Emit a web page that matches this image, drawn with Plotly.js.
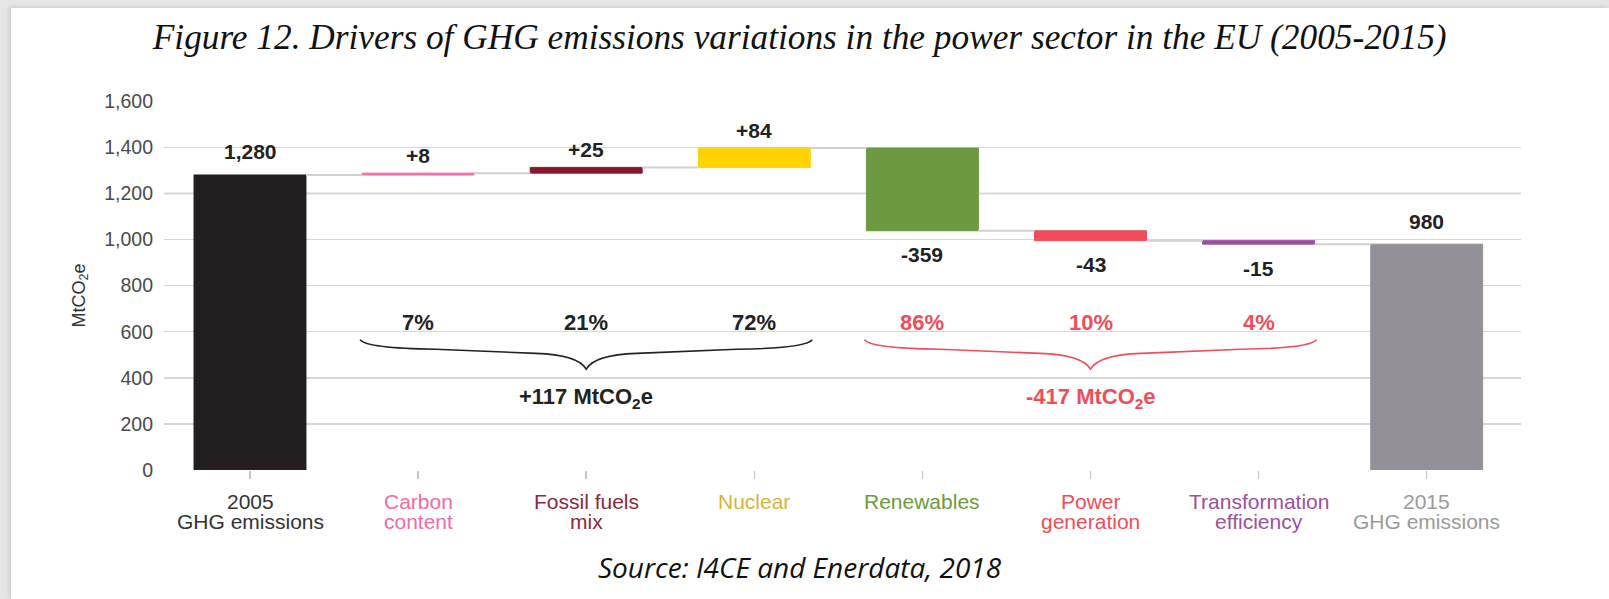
<!DOCTYPE html>
<html>
<head>
<meta charset="utf-8">
<script src="https://cdn.plot.ly/plotly-3.0.1.min.js"></script>
<style>
  html, body { margin: 0; padding: 0; width: 1609px; height: 599px; overflow: hidden; background: #e6e6e6; }
  #paper { position: absolute; left: 11px; top: 8px; right: 0; bottom: 0; background: #ffffff; box-shadow: -2px -1px 4px rgba(0,0,0,0.12); }
  #chart { position: absolute; left: 0; top: 0; width: 1609px; height: 599px; }
</style>
</head>
<body>
<div id="paper"></div>
<div id="chart"></div>
<script>
// ---- data ----
const categories = ['2005<br>GHG emissions', 'Carbon<br>content', 'Fossil fuels<br>mix', 'Nuclear',
                    'Renewables', 'Power<br>generation', 'Transformation<br>efficiency', '2015<br>GHG emissions'];
const values = [1280, 8, 25, 84, -359, -43, -15, 980];
const kinds = ['total', 'delta', 'delta', 'delta', 'delta', 'delta', 'delta', 'total'];
const valueLabels = ['1,280', '+8', '+25', '+84', '-359', '-43', '-15', '980'];
const barColors = ['#231f20', '#f06aa4', '#8a1730', '#ffd200', '#6d9a40', '#ef4d5a', '#9c4f9f', '#939197'];
const tickColors = ['#333333', '#f06aa4', '#8a2a3c', '#d6b43a', '#6d9a40', '#ef4d5a', '#9c4f9f', '#9a9a9a'];
const increaseIdx = [1, 2, 3];
const increaseShares = ['7%', '21%', '72%'];
const increaseTotal = '+117 MtCO<sub>2</sub>e';
const decreaseIdx = [4, 5, 6];
const decreaseShares = ['86%', '10%', '4%'];
const decreaseTotal = '-417 MtCO<sub>2</sub>e';
const yTicks = [0, 200, 400, 600, 800, 1000, 1200, 1400, 1600];

// ---- derived ----
const xs = categories.map((_, i) => i);
const bases = [], heights = [], ends = [];
let running = 0;
values.forEach((v, i) => {
  if (kinds[i] === 'total') { bases.push(0); heights.push(v); running = v; }
  else { bases.push(running); heights.push(v); running += v; }
  ends.push(running);
});

const BW = 0.666;
const FONT = '"Liberation Sans", Arial, sans-serif';
const DARK = '#222222';
const RED = '#ef4d5a';
const PLOT_H = 369;      // plot area height in px (for paper-coordinate placement)
const BASE_PX = 470;     // page y of the plot bottom

const bars = {
  type: 'bar', x: xs, y: heights, base: bases, width: BW,
  marker: { color: barColors, line: { width: 1, color: barColors } },
  hoverinfo: 'skip', showlegend: false
};

// connector lines
const cx = [], cy = [];
for (let i = 0; i < xs.length - 1; i++) {
  cx.push(xs[i] + BW / 2, xs[i + 1] - BW / 2, null);
  cy.push(ends[i], ends[i], null);
}
const connectors = {
  type: 'scatter', mode: 'lines', x: cx, y: cy,
  line: { color: '#d0d0d2', width: 2 }, hoverinfo: 'skip', showlegend: false
};

const annotations = [];
const pageY = py => (BASE_PX - py) / PLOT_H;

// value labels
values.forEach((v, i) => {
  const top = Math.max(bases[i], bases[i] + heights[i]);
  const bottom = Math.min(bases[i], bases[i] + heights[i]);
  const neg = kinds[i] === 'delta' && v < 0;
  annotations.push({
    x: xs[i], y: neg ? bottom : top, xref: 'x', yref: 'y',
    text: valueLabels[i], showarrow: false, yanchor: 'middle',
    yshift: neg ? -24 : (kinds[i] === 'total' ? 23 : 18),
    font: { family: FONT, size: 21, color: DARK, weight: 'bold' }
  });
});

// category labels (two lines, tight spacing as in the reference)
categories.forEach((c, i) => {
  c.split('<br>').forEach((line, j) => annotations.push({
    x: xs[i], xref: 'x', yref: 'paper', y: pageY(501.5 + j * 19.5), yanchor: 'middle',
    text: line, showarrow: false,
    font: { family: FONT, size: 21, color: tickColors[i] }
  }));
});

// group shares and totals + braces
const shapes = [];
function group(idx, shares, total, color) {
  idx.forEach((k, j) => annotations.push({
    x: xs[k], y: 638, xref: 'x', yref: 'y', text: shares[j], showarrow: false,
    font: { family: FONT, size: 22, color: color, weight: 'bold' }
  }));
  const mid = xs[idx[Math.floor(idx.length / 2)]];
  annotations.push({
    x: mid, y: 313, xref: 'x', yref: 'y', text: total, showarrow: false,
    font: { family: FONT, size: 22, color: color, weight: 'bold' }
  });
  const xl = xs[idx[0]] - 0.345, xr = xs[idx[idx.length - 1]] + 0.345;
  const yE = 565, yF = 528, yN = 506, yT = 438;
  const p = `M ${xl},${yE} Q ${xl + 0.04},${yF} ${xl + 0.45},${yF - 4} L ${mid - 0.3},${yN} Q ${mid - 0.05},${yN - 6} ${mid},${yT} ` +
            `Q ${mid + 0.05},${yN - 6} ${mid + 0.3},${yN} L ${xr - 0.45},${yF - 4} Q ${xr - 0.04},${yF} ${xr},${yE}`;
  shapes.push({ type: 'path', xref: 'x', yref: 'y', path: p, line: { color: color, width: 1.6 } });
}
group(increaseIdx, increaseShares, increaseTotal, DARK);
group(decreaseIdx, decreaseShares, decreaseTotal, RED);

// slightly darker 1,200 grid line as in the reference
shapes.push({ type: 'line', xref: 'paper', yref: 'y', x0: 0, x1: 1, y0: 1200, y1: 1200,
  line: { color: '#b4b4b8', width: 1.5 }, layer: 'below' });

// y axis title
annotations.push({
  xref: 'paper', yref: 'paper', x: -0.0619, y: 0.473, xanchor: 'center', yanchor: 'middle',
  text: 'MtCO<sub>2</sub>e', textangle: -90,
  showarrow: false, font: { family: FONT, size: 18, color: '#333333' }
});
// source
annotations.push({
  xref: 'paper', yref: 'paper', x: 0.4687, y: pageY(566.5), xanchor: 'center', yanchor: 'middle',
  text: '<i>Source: I4CE and Enerdata, 2018</i>',
  showarrow: false, font: { family: '"Open Sans", sans-serif', size: 28, color: '#111111' }
});

const layout = {
  width: 1609, height: 599,
  paper_bgcolor: 'rgba(0,0,0,0)', plot_bgcolor: 'rgba(0,0,0,0)',
  margin: { l: 164, r: 88, t: 101, b: 129 },
  title: {
    text: '<i>Figure 12. Drivers of GHG emissions variations in the power sector in the EU (2005-2015)</i>',
    font: { family: '"Liberation Serif", "DejaVu Serif", serif', size: 35.3, color: '#111111' },
    x: 0.497, xanchor: 'center', yref: 'container', y: 1 - 37 / 599, yanchor: 'middle'
  },
  xaxis: {
    type: 'linear', range: [-0.5116, 7.561], showgrid: false, zeroline: false, showline: false,
    tickvals: xs, showticklabels: false,
    ticks: 'outside', ticklen: 8, tickwidth: 1.5, tickcolor: '#c4c4c6'
  },
  yaxis: {
    range: [0, 1601], tickvals: yTicks, tickformat: ',d', showgrid: true,
    gridcolor: '#d6d6d8', gridwidth: 1.5, zeroline: false, showline: false, ticks: '',
    ticklabelstandoff: 10,
    tickfont: { family: FONT, size: 19.5, color: '#4a4a4a' }
  },
  shapes: shapes,
  annotations: annotations,
  bargap: 0
};

Plotly.newPlot('chart', [connectors, bars], layout, { staticPlot: true });
</script>
</body>
</html>
